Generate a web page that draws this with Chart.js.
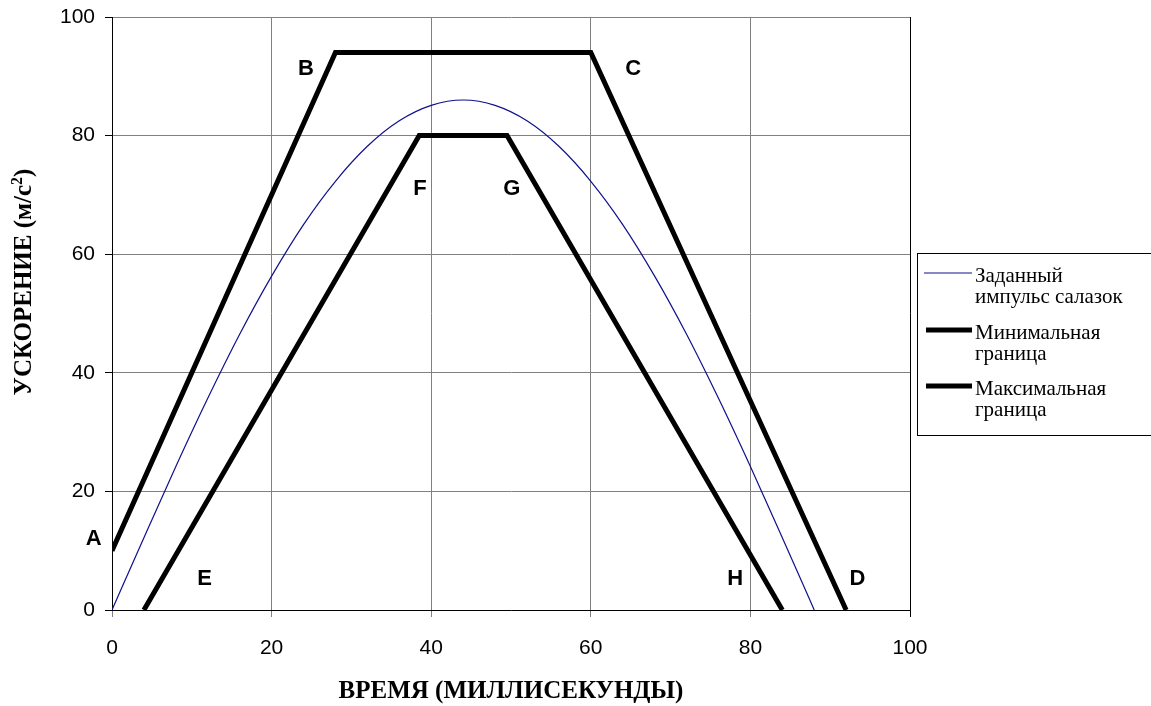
<!DOCTYPE html>
<html>
<head>
<meta charset="utf-8">
<script src="https://cdn.jsdelivr.net/npm/chart.js@4.4.1/dist/chart.umd.min.js"></script>
<style>
  html, body { margin: 0; padding: 0; background: #fff; overflow: hidden; }
  canvas { display: block; }
</style>
</head>
<body>
<canvas id="myChart" width="1151" height="706"></canvas>
<script>
// sled pulse, every 4 ms
const pulseTime = [0, 4, 8, 12, 16, 20, 24, 28, 32, 36, 40, 44, 48, 52, 56, 60, 64, 68, 72, 76, 80, 84, 88];
const pulseAccel = [0, 12.2, 24.2, 35.7, 46.5, 56.3, 65, 72.3, 78.2, 82.5, 85.1, 86, 85.1, 82.5, 78.2, 72.3, 65, 56.3, 46.5, 35.7, 24.2, 12.2, 0];

// minimum corridor E-F-G-H
const minTime = [4, 38.5, 49.5, 84];
const minAccel = [0, 80, 80, 0];

// maximum corridor A-B-C-D
const maxTime = [0, 28, 60, 92];
const maxAccel = [10, 94, 94, 0];

const seriesNames = [
  ["Заданный", "импульс салазок"],
  ["Минимальная", "граница"],
  ["Максимальная", "граница"]
];

// corner letters and where they sit (data coords)
const cornerNames = ["A", "B", "C", "D", "E", "F", "G", "H"];
const cornerX = [-2.3, 24.3, 65.3, 93.4, 11.6, 38.6, 50.1, 78.1];
const cornerY = [12, 91.2, 91.2, 5.2, 5.2, 71, 71, 5.2];

const xTicks = [0, 20, 40, 60, 80, 100];
const yTicks = [0, 20, 40, 60, 80, 100];

const xTitle = "ВРЕМЯ (МИЛЛИСЕКУНДЫ)";
const yTitle = "УСКОРЕНИЕ (м/с";

const toPoints = (xs, ys) => xs.map((x, i) => ({ x: x, y: ys[i] }));

const GRID = "#808080";
const SERIF = "'Liberation Serif', 'Times New Roman', serif";

const extras = {
  id: "extras",
  afterDraw(chart) {
    const ctx = chart.ctx;
    const xs = chart.scales.x;
    const ys = chart.scales.y;

    // corner letters
    ctx.save();
    ctx.fillStyle = "#000";
    ctx.font = "bold 22px 'Liberation Sans', Arial, sans-serif";
    ctx.textAlign = "center";
    ctx.textBaseline = "middle";
    cornerNames.forEach((n, i) => {
      ctx.fillText(n, xs.getPixelForValue(cornerX[i]), ys.getPixelForValue(cornerY[i]));
    });
    ctx.restore();

    // axis titles
    ctx.save();
    ctx.fillStyle = "#000";
    ctx.font = "bold 25px " + SERIF;
    ctx.textAlign = "center";
    ctx.textBaseline = "middle";
    ctx.fillText(xTitle, (chart.chartArea.left + chart.chartArea.right) / 2, 692);

    ctx.translate(25, 282);
    ctx.rotate(-Math.PI / 2);
    const f1 = "bold 25px " + SERIF;
    const f2 = "bold 16px " + SERIF;
    ctx.font = f1;
    const w1 = ctx.measureText(yTitle).width;
    const w3 = ctx.measureText(")").width;
    ctx.font = f2;
    const w2 = ctx.measureText("2").width;
    let x0 = -(w1 + w2 + w3) / 2;
    ctx.textAlign = "left";
    ctx.font = f1;
    ctx.fillText(yTitle, x0, 0);
    ctx.font = f2;
    ctx.fillText("2", x0 + w1, -7);
    ctx.font = f1;
    ctx.fillText(")", x0 + w1 + w2, 0);
    ctx.restore();

    // legend box
    ctx.save();
    const lx = 917, ly = 253, lw = 250, lh = 182;
    ctx.fillStyle = "#fff";
    ctx.fillRect(lx, ly, lw, lh);
    ctx.strokeStyle = "#000";
    ctx.lineWidth = 1;
    ctx.strokeRect(lx + 0.5, ly + 0.5, lw, lh);
    const rows = [273, 330, 386];
    ctx.font = "21px " + SERIF;
    ctx.textAlign = "left";
    ctx.textBaseline = "middle";
    chart.data.datasets.forEach((ds, i) => {
      const y = rows[i];
      ctx.strokeStyle = ds.borderColor;
      ctx.lineWidth = ds.borderWidth;
      ctx.beginPath();
      ctx.moveTo(i === 0 ? 924 : 926, y);
      ctx.lineTo(972, y);
      ctx.stroke();
      ctx.fillStyle = "#000";
      seriesNames[i].forEach((t, k) => ctx.fillText(t, 975, y + 3 + k * 21));
    });
    ctx.restore();
  }
};

new Chart("myChart", {
  type: "line",
  data: {
    datasets: [
      {
        label: seriesNames[0].join(" "),
        data: toPoints(pulseTime, pulseAccel),
        borderColor: "#10108c",
        borderWidth: 1.2,
        pointRadius: 0,
        cubicInterpolationMode: "monotone"
      },
      {
        label: seriesNames[1].join(" "),
        data: toPoints(minTime, minAccel),
        borderColor: "#000",
        borderWidth: 5,
        pointRadius: 0,
        tension: 0
      },
      {
        label: seriesNames[2].join(" "),
        data: toPoints(maxTime, maxAccel),
        borderColor: "#000",
        borderWidth: 5,
        pointRadius: 0,
        tension: 0
      }
    ]
  },
  options: {
    responsive: false,
    animation: false,
    devicePixelRatio: 1,
    layout: { padding: { left: 0, top: 17, right: 241, bottom: 0 } },
    plugins: {
      legend: { display: false },
      tooltip: { enabled: false }
    },
    scales: {
      x: {
        type: "linear",
        min: 0,
        max: 100,
        afterBuildTicks: (s) => { s.ticks = xTicks.map(v => ({ value: v })); },
        afterFit: (s) => { s.height = 96; s.paddingLeft = 0; s.paddingRight = 0; },
        ticks: {
          color: "#000",
          padding: 19,
          font: { family: "'Liberation Sans', Arial, sans-serif", size: 21 }
        },
        grid: {
          color: (c) => (c.tick && c.tick.value === 100 ? "#000" : GRID),
          tickColor: (c) => (c.tick && c.tick.value === 100 ? "#000" : GRID),
          tickLength: 7,
          lineWidth: 1
        },
        border: { color: "#000", width: 1 }
      },
      y: {
        type: "linear",
        min: 0,
        max: 100,
        afterBuildTicks: (s) => { s.ticks = yTicks.map(v => ({ value: v })); },
        afterFit: (s) => { s.width = 112; s.paddingTop = 0; s.paddingBottom = 0; },
        ticks: {
          color: "#000",
          padding: 10,
          font: { family: "'Liberation Sans', Arial, sans-serif", size: 21 }
        },
        grid: {
          color: GRID,
          tickColor: "#000",
          tickLength: 7,
          lineWidth: 1
        },
        border: { color: "#000", width: 1 }
      }
    }
  },
  plugins: [extras]
});
</script>
</body>
</html>
